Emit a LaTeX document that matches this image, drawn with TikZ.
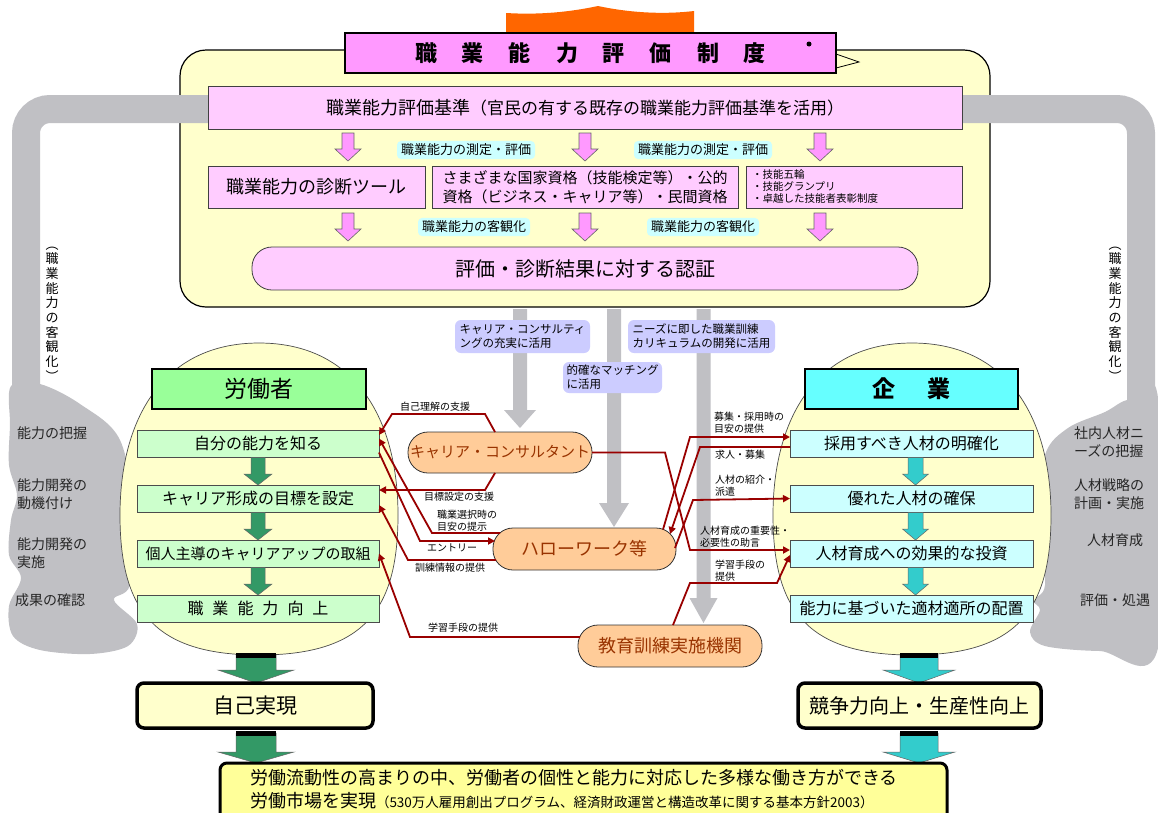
\documentclass[tikz,border=0pt]{standalone}
\usepackage{fontspec}
\setmainfont{Noto Sans CJK JP}
\usetikzlibrary{calc,arrows.meta}
\definecolor{ylw}{HTML}{FFFFCC}
\definecolor{ttl}{HTML}{FF99FF}
\definecolor{pk}{HTML}{FFCCFF}
\definecolor{gbl}{RGB}{192,192,196}
\definecolor{lcy}{HTML}{CCFFFF}
\definecolor{lav}{HTML}{CCCCFF}
\definecolor{lgr}{HTML}{CCFFCC}
\definecolor{hgr}{HTML}{99FF99}
\definecolor{hcy}{HTML}{66FFFF}
\definecolor{org}{HTML}{FFCC99}
\definecolor{dred}{HTML}{990000}
\definecolor{agr}{HTML}{339966}
\definecolor{acy}{HTML}{33CCCC}
\definecolor{oran}{HTML}{FF6600}
\definecolor{byl}{HTML}{FFFF99}
\definecolor{otext}{HTML}{993300}
\definecolor{parw}{HTML}{FF99FF}
\newcommand\fsz[2]{\fontsize{#1}{#2}\selectfont}
% block arrow: style, x, ytop, ytip, shaft half, head half, head length
\newcommand\barw[7]{\path[#1] (#2-#5,#3) -- (#2+#5,#3) -- (#2+#5,#4-#7) -- (#2+#6,#4-#7) -- (#2,#4) -- (#2-#6,#4-#7) -- (#2-#5,#4-#7) -- cycle;}
\newcommand\egg[1]{\draw[fill=ylw, draw=black!70, line width=0.7pt] (#1,343) .. controls (#1-97,343) and (#1-139,420) .. (#1-139,515) .. controls (#1-139,610) and (#1-105,655) .. (#1,655) .. controls (#1+105,655) and (#1+139,610) .. (#1+139,515) .. controls (#1+139,420) and (#1+97,343) .. (#1,343) -- cycle;}
\tikzset{
  pbox/.style={draw=black!75, line width=0.8pt, fill=pk},
  clbl/.style={fill=lcy, rounded corners=4pt, inner xsep=4pt, inner ysep=3pt, font={\fsz{13}{13}}},
  vlbl/.style={fill=lav, rounded corners=6pt, inner xsep=3pt, inner ysep=3pt, align=left, font={\fsz{11.5}{14}}},
  stepL/.style={draw=black!70, line width=0.8pt, fill=lgr, minimum width=242pt, minimum height=27pt, font={\fsz{16}{16}}},
  stepR/.style={draw=black!70, line width=0.8pt, fill=lcy, minimum width=243pt, minimum height=27pt, font={\fsz{16}{16}}},
  opill/.style={draw=black!80, line width=0.8pt, fill=org, rounded corners=20pt, text=otext, minimum height=42pt},
  conn/.style={draw=dred, line width=1.8pt, -{Triangle[length=7pt,width=7pt]}},
  rlbl/.style={font={\fsz{10}{12}}, align=left},
  gtxt/.style={font={\fsz{14}{18}}, align=left, anchor=west, text=black!85},
  parrow/.style={fill=parw, draw=black!60, line width=0.6pt},
  garrow/.style={fill=gbl},
  grarrow/.style={fill=agr, draw=black!60, line width=0.5pt},
  cyarrow/.style={fill=acy, draw=black!60, line width=0.5pt},
  endbox/.style={draw, line width=3.5pt, rounded corners=7pt, fill=ylw, minimum height=45pt}
}
\begin{document}
\begin{tikzpicture}[x=1pt,y=-1pt, every node/.style={inner sep=0pt, outer sep=0pt}]
\useasboundingbox (0,0) rectangle (1158,812);
\fill[white] (0,0) rectangle (1158,812);

% orange banner
\fill[oran] (506,13) .. controls (540,15) and (570,12) .. (598,6) .. controls (626,12) and (660,15) .. (694,11) -- (694,45) -- (506,45) -- cycle;

% main yellow box
\draw[fill=ylw, line width=1.2pt, rounded corners=26pt] (180,50) rectangle (990,307);

% gray bands and clouds
\draw[gbl, line width=28pt, rounded corners=24pt] (215,109) -- (26,109) -- (26,400);
\draw[gbl, line width=28pt, rounded corners=24pt] (955,109) -- (1141,109) -- (1141,420);
\fill[gbl] plot[smooth cycle, tension=0.55] coordinates {(11,386) (40,384) (80,404) (120,440) (135,520) (130,585) (114,600) (137,624) (128,646) (90,654) (40,650) (13,636) (9,606) (21,578) (9,555) (11,520) (17,495) (9,465) (10,425)};
\fill[gbl] plot[smooth cycle, tension=0.55] coordinates {(1127,400) (1158,398) (1158,648) (1100,651) (1045,646) (1030,632) (1040,610) (1033,600) (1045,585) (1040,520) (1045,455) (1068,428) (1105,412)};

% title
\draw[fill=ylw, line width=0.8pt] (836,54) -- (859,62) -- (836,68) -- cycle;
\node[draw, line width=1.6pt, fill=ttl, minimum width=491pt, minimum height=40pt, font={\fsz{22}{22}\bfseries}] (title) at (590.5,53) {職\kern25pt 業\kern25pt 能\kern25pt 力\kern25pt 評\kern25pt 価\kern25pt 制\kern25pt 度};
\fill (809,44) circle (2.5pt);

% criteria
\node[pbox, minimum width=754pt, minimum height=43pt] (crit) at (585,107.5) {{\fsz{18}{18}職業能力評価基準}{\fsz{17}{17}（官民の有する既存の職業能力評価基準を活用）}};
\barw{parrow}{348}{133}{161}{6}{13}{12}
\barw{parrow}{585}{133}{161}{6}{13}{12}
\barw{parrow}{820}{133}{161}{6}{13}{12}
\node[clbl] (m1) at (466,150) {職業能力の測定・評価};
\node[clbl] (m2) at (703,150) {職業能力の測定・評価};

\node[pbox, minimum width=217pt, minimum height=42pt, font={\fsz{18}{18}}] (b1) at (316.5,187) {職業能力の診断ツール};
\node[pbox, minimum width=306pt, minimum height=42pt, align=left, font={\fsz{15}{19}}] (b2) at (585,187) {さまざまな国家資格（技能検定等）・公的\\資格（ビジネス・キャリア等）・民間資格};
\node[pbox, minimum width=216pt, minimum height=42pt, text width=204pt, align=left, font={\fsz{10.5}{12}}] (b3) at (854,187) {・技能五輪\\・技能グランプリ\\・卓越した技能者表彰制度};

\barw{parrow}{348}{213}{241}{6}{13}{12}
\barw{parrow}{585}{213}{241}{6}{13}{12}
\barw{parrow}{820}{213}{241}{6}{13}{12}
\node[clbl] (k1) at (474,227) {職業能力の客観化};
\node[clbl] (k2) at (703,227) {職業能力の客観化};

\node[pbox, rounded corners=20pt, minimum width=666pt, minimum height=43pt, font={\fsz{20}{20}}] (cert) at (585,268.5) {評価・診断結果に対する認証};

% gray arrows
\barw{garrow}{520}{309}{428}{7}{16}{18}
\barw{garrow}{614}{309}{527}{7}{15}{24}
\barw{garrow}{703.5}{309}{623}{7}{14}{25}
\node[vlbl, minimum width=135pt, minimum height=33pt] (v1) at (522.5,336.5) {キャリア・コンサルティ\\ングの充実に活用};
\node[vlbl, minimum width=147pt, minimum height=33pt] (v2) at (701.5,336.5) {ニーズに即した職業訓練\\カリキュラムの開発に活用};
\node[vlbl, minimum width=99pt, minimum height=31pt] (v3) at (612.5,377.5) {的確なマッチング\\に活用};

% eggs
\egg{259}
\egg{912}

% headers
\node[draw, line width=2pt, fill=hgr, minimum width=214pt, minimum height=40pt, font={\fsz{23}{23}}] (wk) at (258.5,389) {労働者};
\node[draw, line width=2pt, fill=hcy, minimum width=213pt, minimum height=40pt, font={\fsz{23}{23}\bfseries}] (ent) at (911.5,389) {企\kern32pt 業};

% steps
\node[stepL] (w1) at (258,443.5) {自分の能力を知る};
\node[stepL] (w2) at (258,498.5) {キャリア形成の目標を設定};
\node[stepL, font={\fsz{15}{15}}] (w3) at (258,553.5) {個人主導のキャリアアップの取組};
\node[stepL] (w4) at (258,608.5) {職\kern9pt 業\kern9pt 能\kern9pt 力\kern9pt 向\kern9pt 上};
\node[stepR] (r1) at (911.5,443.5) {採用すべき人材の明確化};
\node[stepR] (r2) at (911.5,498.5) {優れた人材の確保};
\node[stepR] (r3) at (911.5,553.5) {人材育成への効果的な投資};
\node[stepR] (r4) at (911.5,608.5) {能力に基づいた適材適所の配置};
\barw{grarrow}{258}{457.5}{485}{7}{14}{11}
\barw{grarrow}{258}{512.5}{540}{7}{14}{11}
\barw{grarrow}{258}{567.5}{595}{7}{14}{11}
\barw{cyarrow}{915.5}{457.5}{485}{7.5}{13}{11}
\barw{cyarrow}{915.5}{512.5}{540}{7.5}{13}{11}
\barw{cyarrow}{915.5}{567.5}{595}{7.5}{13}{11}

% cloud texts
\node[gtxt] (t1) at (17,433) {能力の把握};
\node[gtxt] (t2) at (17,494) {能力開発の\\動機付け};
\node[gtxt] (t3) at (17,553) {能力開発の\\実施};
\node[gtxt] (t4) at (15,600) {成果の確認};
\node[gtxt] (t5) at (1074,442) {社内人材ニ\\ーズの把握};
\node[gtxt] (t6) at (1074,494) {人材戦略の\\計画・実施};
\node[gtxt, anchor=center] (t7) at (1115,540) {人材育成};
\node[gtxt, anchor=center] (t8) at (1115,600) {評価・処遇};
\node[align=center, font={\fsz{13}{14.7}}] (vt1) at (52,314) {︵\\職\\業\\能\\力\\の\\客\\観\\化\\︶};
\node[align=center, font={\fsz{13}{14.7}}] (vt2) at (1115,314) {︵\\職\\業\\能\\力\\の\\客\\観\\化\\︶};

% orange pills
\node[opill, minimum width=184pt, minimum height=41pt, font={\fsz{15}{15}}] (cc) at (500,452.5) {キャリア・コンサルタント};
\node[opill, minimum width=183pt, font={\fsz{18}{18}}] (hw) at (584.5,549) {ハローワーク等};
\node[opill, minimum width=184pt, font={\fsz{18}{18}}] (et) at (670,646) {教育訓練実施機関};

% connectors left
\draw[conn] ($(cc.north)+(-5,0)$) -- (485,414) -- (392,414) -- ($(w1.east)+(0,-8.5)$);
\draw[conn] ($(cc.south)+(-5,0)$) -- (485,490) -- ($(w2.east)+(0,-8.5)$);
\draw[conn] ($(hw.west)+(7,-16)$) -- (432,533) -- ($(w1.east)+(0,-5)$);
\draw[conn] ($(w1.east)+(0,9)$) -- (420,541) -- ($(hw.west)+(2,-8)$);
\draw[conn] ($(hw.west)+(3,11)$) -- (408,560) -- ($(w2.east)+(0,6.5)$);
\draw[conn] ($(et.west)+(2,-9)$) -- (410,637) -- (w3.east);
% connectors right
\draw[conn] ($(hw.north)+(78.5,1.5)$) -- (690,437) -- ($(r1.west)+(0,-6.5)$);
\draw[conn] ($(r1.west)+(0,3.5)$) -- (700,447) -- ($(hw.north east)+(-6,6)$);
\draw[conn] (cc.east) -- (665,452.5) -- (690,550) -- ($(r3.west)+(0,-3.5)$);
\draw[conn] ($(hw.east)+(-1,-1)$) -- (693,500) -- (r2.west);
\draw[conn] ($(et.north)+(3,0)$) -- (690,583) -- (777,583) -- ($(r3.west)+(0,1.5)$);

% connector labels
\node[rlbl] (l1) at (435,407) {自己理解の支援};
\node[rlbl] (l2) at (459,497) {目標設定の支援};
\node[rlbl] (l3) at (467,521) {職業選択時の\\目安の提示};
\node[rlbl] (l4) at (452,548) {エントリー};
\node[rlbl] (l5) at (450,568) {訓練情報の提供};
\node[rlbl] (l6) at (463,628) {学習手段の提供};
\node[rlbl, anchor=west] (l7) at (714,423) {募集・採用時の\\目安の提供};
\node[rlbl, anchor=west] (l8) at (715,455) {求人・募集};
\node[rlbl, anchor=west] (l9) at (715,486) {人材の紹介・\\派遣};
\node[rlbl, anchor=west] (l10) at (700,537) {人材育成の重要性・\\必要性の助言};
\node[rlbl, anchor=west] (l11) at (715,571) {学習手段の\\提供};

% bottom
\barw{grarrow}{256}{655}{683}{20}{38}{13}
\fill (236,653) rectangle (276,658);
\barw{cyarrow}{919}{655}{683}{19}{36}{13}
\fill (900,653) rectangle (938,658);
\node[endbox, minimum width=236pt, font={\fsz{21}{21}}] (self) at (255,705.5) {自己実現};
\node[endbox, minimum width=243pt, font={\fsz{20}{20}}] (comp) at (919.5,705.5) {競争力向上・生産性向上};
\barw{grarrow}{256}{733}{763}{20}{38}{11}
\fill (236,731) rectangle (276,736);
\barw{cyarrow}{919}{733}{763}{19}{36}{11}
\fill (900,731) rectangle (938,736);
\node[draw, line width=3pt, rounded corners=7pt, fill=byl, minimum width=727pt, minimum height=60pt] (goal) at (583.5,793) {};
\node[anchor=west, font={\fsz{18}{18}}] (g1) at (250,778) {労働流動性の高まりの中、労働者の個性と能力に対応した多様な働き方ができる};
\node[anchor=west] (g2) at (250,801) {{\fsz{18}{18}労働市場を実現}{\fsz{13.5}{14}（530万人雇用創出プログラム、経済財政運営と構造改革に関する基本方針2003）}};
\end{tikzpicture}
\end{document}
